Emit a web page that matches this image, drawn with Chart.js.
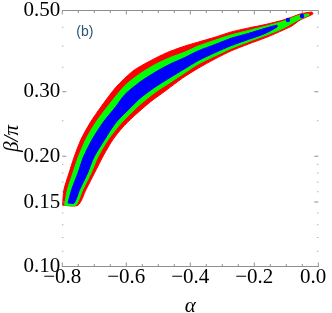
<!DOCTYPE html>
<html>
<head>
<meta charset="utf-8">
<script src="https://cdn.jsdelivr.net/npm/chart.js@4"></script>
<style>
    html, body { margin: 0; padding: 0; background: #fff; }
    #plot { display: block; }
</style>
</head>
<body>
<canvas id="plot" width="332" height="313"></canvas>
<script>
// band edges (alpha, beta/pi), upper edge bottom->tip, lower edge tip->bottom
const redUpperA = [-0.800, -0.795, -0.779, -0.763, -0.742, -0.713, -0.679, -0.632, -0.579, -0.526, -0.475, -0.424, -0.375, -0.322, -0.272, -0.218, -0.160, -0.110, -0.082, -0.057, -0.020];
const redUpperB = [0.147, 0.162, 0.180, 0.199, 0.222, 0.247, 0.273, 0.309, 0.342, 0.364, 0.383, 0.398, 0.410, 0.423, 0.437, 0.448, 0.459, 0.471, 0.480, 0.489, 0.495];
const redLowerA = [-0.017, -0.057, -0.082, -0.110, -0.160, -0.218, -0.272, -0.322, -0.375, -0.424, -0.475, -0.526, -0.579, -0.613, -0.642, -0.670, -0.698, -0.726, -0.751];
const redLowerB = [0.489, 0.471, 0.454, 0.442, 0.423, 0.405, 0.388, 0.369, 0.348, 0.327, 0.303, 0.281, 0.256, 0.239, 0.222, 0.202, 0.181, 0.162, 0.147];

const greenUpperA = [-0.793, -0.784, -0.767, -0.750, -0.727, -0.696, -0.659, -0.604, -0.557, -0.510, -0.463, -0.417, -0.375, -0.322, -0.272, -0.218, -0.160, -0.110, -0.057, -0.029];
const greenUpperB = [0.147, 0.162, 0.180, 0.199, 0.222, 0.247, 0.273, 0.312, 0.336, 0.356, 0.372, 0.385, 0.400, 0.415, 0.429, 0.441, 0.454, 0.467, 0.486, 0.489];
const greenLowerA = [-0.029, -0.057, -0.110, -0.160, -0.218, -0.272, -0.322, -0.375, -0.417, -0.463, -0.510, -0.557, -0.565, -0.615, -0.657, -0.689, -0.710, -0.736, -0.758];
const greenLowerB = [0.486, 0.474, 0.447, 0.429, 0.411, 0.394, 0.376, 0.357, 0.338, 0.318, 0.299, 0.277, 0.273, 0.247, 0.222, 0.199, 0.180, 0.162, 0.147];

const blueUpperA = [-0.782, -0.771, -0.751, -0.734, -0.707, -0.673, -0.633, -0.604, -0.557, -0.510, -0.463, -0.417, -0.375, -0.322, -0.272, -0.218, -0.166, -0.129];
const blueUpperB = [0.149, 0.162, 0.180, 0.199, 0.222, 0.247, 0.273, 0.295, 0.319, 0.339, 0.357, 0.372, 0.388, 0.404, 0.420, 0.433, 0.447, 0.456];
const blueLowerA = [-0.129, -0.166, -0.218, -0.272, -0.322, -0.375, -0.417, -0.463, -0.510, -0.557, -0.584, -0.633, -0.668, -0.701, -0.721, -0.746, -0.763];
const blueLowerB = [0.451, 0.433, 0.417, 0.401, 0.384, 0.365, 0.347, 0.328, 0.309, 0.288, 0.273, 0.247, 0.222, 0.199, 0.180, 0.162, 0.149];

// stray blue points near the tip
const dotA = [-0.095, -0.051];
const dotB = [0.471, 0.483];

const xMajor = [-0.8, -0.6, -0.4, -0.2, 0.0];
const xMinor = [-0.75, -0.7, -0.65, -0.55, -0.5, -0.45, -0.35, -0.3, -0.25, -0.15, -0.1, -0.05];
const yMajor = [0.10, 0.15, 0.20, 0.30, 0.50];
const yMinor = [0.11, 0.12, 0.13, 0.14, 0.16, 0.17, 0.18, 0.19, 0.25, 0.35, 0.40, 0.45];

function outline(upA, upB, loA, loB) {
    const pts = upA.map((a, i) => ({x: a, y: upB[i]}));
    loA.forEach((a, i) => pts.push({x: a, y: loB[i]}));
    pts.push(pts[0]);
    return pts;
}

function layer(pts, color, order) {
    return {
        data: pts,
        showLine: true,
        fill: 'shape',
        backgroundColor: color,
        borderColor: color,
        borderWidth: 1,
        pointRadius: 0,
        tension: 0.25,
        order: order
    };
}

const frame = {
    id: 'frame',
    afterDraw(chart) {
        const {ctx, chartArea: a, scales: {x, y}} = chart;
        ctx.save();
        ctx.strokeStyle = '#8f8f8f';
        ctx.lineWidth = 1;
        ctx.beginPath();
        ctx.moveTo(a.left, a.top);
        ctx.lineTo(a.right, a.top);
        const xTick = (v, len) => {
            const p = x.getPixelForValue(v);
            ctx.moveTo(p, a.bottom); ctx.lineTo(p, a.bottom - len);
            ctx.moveTo(p, a.top); ctx.lineTo(p, a.top + len);
        };
        const yTick = (v, len) => {
            const p = y.getPixelForValue(v);
            ctx.moveTo(a.left, p); ctx.lineTo(a.left + len, p);
            ctx.moveTo(a.right, p); ctx.lineTo(a.right - len, p);
        };
        xMajor.forEach(v => xTick(v, 4));
        xMinor.forEach(v => xTick(v, 2.5));
        yMajor.forEach(v => yTick(v, 4));
        yMinor.forEach(v => yTick(v, 1));
        ctx.stroke();

        ctx.fillStyle = '#2b5572';
        ctx.font = '14px "Liberation Sans"';
        ctx.textAlign = 'center';
        ctx.textBaseline = 'middle';
        ctx.fillText('(b)', a.left + 22.5, a.top + 22);
        ctx.restore();
    }
};

const serif = 'Liberation Serif';

new Chart(document.getElementById('plot'), {
    type: 'scatter',
    data: {
        datasets: [
            layer(outline(redUpperA, redUpperB, redLowerA, redLowerB), '#ff0000', 3),
            layer(outline(greenUpperA, greenUpperB, greenLowerA, greenLowerB), '#00ff00', 2),
            layer(outline(blueUpperA, blueUpperB, blueLowerA, blueLowerB), '#0000ff', 1),
            {
                data: dotA.map((a, i) => ({x: a, y: dotB[i]})),
                pointRadius: 2.2,
                pointBorderWidth: 0,
                backgroundColor: '#0000ff',
                order: 0
            }
        ]
    },
    options: {
        responsive: false,
        animation: false,
        devicePixelRatio: 1,
        layout: {padding: {top: 10.5, right: 13.7, left: 0, bottom: 0}},
        plugins: {legend: {display: false}, tooltip: {enabled: false}},
        scales: {
            x: {
                type: 'linear',
                min: -0.8,
                max: 0,
                afterBuildTicks: s => { s.ticks = xMajor.map(v => ({value: v})); },
                afterFit: s => { s.height = 46.5; s.paddingLeft = 0; s.paddingRight = 0; },
                grid: {display: false, drawTicks: false},
                border: {display: true, color: '#8f8f8f', width: 1},
                ticks: {
                    font: {family: serif, size: 21, lineHeight: 1},
                    color: '#000',
                    padding: 0,
                    maxRotation: 0,
                    autoSkip: false,
                    callback: v => v === 0 ? '0.0\u2002' : '\u2212' + Math.abs(v).toFixed(1)
                },
                title: {
                    display: true,
                    text: 'α',
                    color: '#000',
                    font: {family: serif, size: 21, style: 'italic', lineHeight: 0.85},
                    padding: {top: 0, bottom: -2}
                }
            },
            y: {
                type: 'logarithmic',
                min: 0.1,
                max: 0.5,
                afterBuildTicks: s => { s.ticks = yMajor.map(v => ({value: v})); },
                afterFit: s => { s.width = 62.3; s.paddingTop = 0; s.paddingBottom = 0; },
                grid: {display: false, drawTicks: false},
                border: {display: false},
                ticks: {
                    font: {family: serif, size: 21, lineHeight: 1},
                    color: '#000',
                    padding: 2,
                    autoSkip: false,
                    callback: v => Number(v).toFixed(2)
                },
                title: {
                    display: true,
                    text: 'β/π',
                    color: '#000',
                    font: {family: serif, size: 21, style: 'italic', lineHeight: 1},
                    padding: {top: 2, bottom: 0}
                }
            }
        }
    },
    plugins: [frame]
});
</script>
</body>
</html>
